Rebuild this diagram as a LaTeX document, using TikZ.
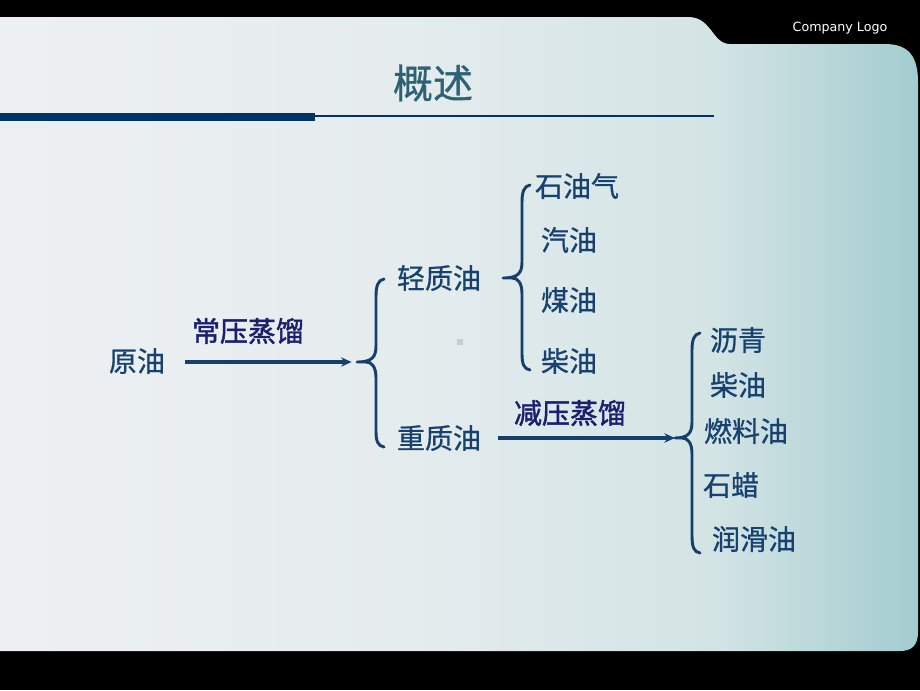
\documentclass[tikz,border=0pt]{standalone}
\usepackage{fontspec}
\newfontfamily\cjk[FakeBold=0.8]{Noto Sans CJK SC}
\newfontfamily\cjkb[FakeBold=1.6]{Noto Sans CJK SC}
\setmainfont{DejaVu Sans}
\usetikzlibrary{arrows.meta}
\definecolor{txt}{HTML}{17426F}
\definecolor{lbl}{HTML}{1C1F6E}
\definecolor{ln}{HTML}{173F6C}
\definecolor{ttl}{HTML}{2D6274}
\definecolor{bar}{HTML}{003366}
\definecolor{pa}{HTML}{EDF0F2}
\definecolor{pb}{HTML}{E5ECEE}
\definecolor{pc}{HTML}{D3E4E5}
\definecolor{pd}{HTML}{A3CCCF}
\pgfdeclarehorizontalshading{panelshade}{100bp}{color(0bp)=(pa); color(25bp)=(pa); color(47bp)=(pb); color(64bp)=(pc); color(75bp)=(pd); color(100bp)=(pd)}
\tikzset{
  item/.style={font=\cjk\fontsize{21}{24}\selectfont, text=txt, inner sep=0pt},
  proc/.style={font=\cjkb\fontsize{21}{24}\selectfont, text=lbl, inner sep=0pt},
  conn/.style={draw=ln, line width=2.4pt, -{Stealth[length=8pt,width=7pt]}},
  brace/.style={draw=ln, line width=2.2pt, line cap=round}
}
\begin{document}
\begin{tikzpicture}[x=0.75pt,y=-0.75pt]
\useasboundingbox (0,0) rectangle (920,690);
\fill[black] (0,0) rectangle (920,690);
% panel
\shade[shading=panelshade]
  (0,17) -- (688,17) .. controls (712,17) and (712,44) .. (730,44)
  -- (885,44) .. controls (910,44) and (918,58) .. (918,82)
  -- (918,632) .. controls (918,645) and (912,651) .. (900,651)
  -- (0,651) -- cycle;
% title
\node[font=\cjk\fontsize{30}{34}\selectfont, text=ttl, inner sep=0pt] (title) at (433,83) {概述};
\node[font=\fontsize{9.5}{11}\selectfont, text=white, inner sep=0pt] (logo) at (840,28) {Company Logo};
\fill[bar] (0,113) rectangle (315,121);
\fill[bar] (315,114.5) rectangle (714,117);
\fill[black!20] (457,339) rectangle (463,345);
% nodes
\node[item] (crude) at (137,361) {原油};
\node[proc] (atm) at (248,331) {常压蒸馏};
\node[item] (light) at (439,278) {轻质油};
\node[item] (heavy) at (439,438) {重质油};
\node[proc] (vac) at (570,413) {减压蒸馏};
\node[item] (l1) at (577,186) {石油气};
\node[item] (l2) at (569,240) {汽油};
\node[item] (l3) at (569,300) {煤油};
\node[item] (l4) at (569,361) {柴油};
\node[item] (h1) at (738,340) {沥青};
\node[item] (h2) at (738,385) {柴油};
\node[item] (h3) at (746,431) {燃料油};
\node[item] (h4) at (731,485) {石蜡};
\node[item] (h5) at (754,539) {润滑油};
% coordinates of braces
\coordinate (b1) at (357,362);
\coordinate (b2) at (503,278);
\coordinate (b3) at (675,438);
% arrows
\draw[conn] (crude.east |- b1) ++(20,0) coordinate (a1s) (a1s) -- ([xshift=-4pt]b1);
\draw[conn] (heavy.east) ++(17,0) coordinate (a2s) (a2s) -- (b3);
% brace 1
\draw[brace] (384,279) .. controls (378,280) and (376,286) .. (376,296) -- (376,346)
  .. controls (376,357) and (372,362) .. (b1)
  (b1) -- (366,362) .. controls (372,362) and (376,367) .. (376,378) -- (376,432)
  .. controls (376,441) and (378,446) .. (384,447);
% brace 2
\draw[brace] (530,185) .. controls (524,186) and (522,192) .. (522,202) -- (522,262)
  .. controls (522,273) and (518,278) .. (b2)
  (b2) -- (512,278) .. controls (518,278) and (522,283) .. (522,294) -- (522,354)
  .. controls (522,364) and (524,369) .. (530,370);
% brace 3
\draw[brace] (700,333) .. controls (694,334) and (692,340) .. (692,350) -- (692,422)
  .. controls (692,433) and (688,438) .. (b3)
  (b3) -- (682,438) .. controls (688,438) and (692,443) .. (692,454) -- (692,536)
  .. controls (692,547) and (694,552) .. (700,553);
\end{tikzpicture}
\end{document}
